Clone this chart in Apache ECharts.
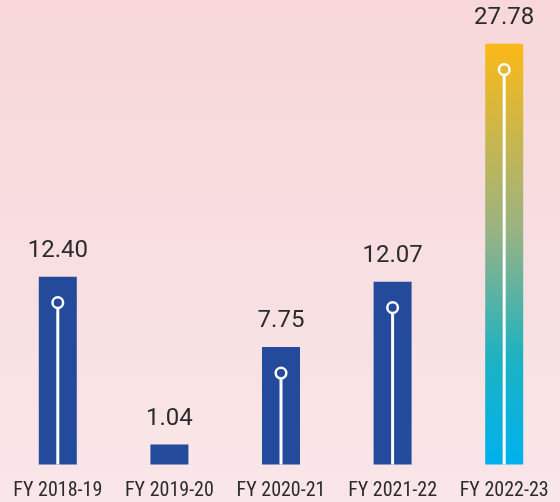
<!DOCTYPE html>
<html><head><meta charset="utf-8">
<style>html,body{margin:0;padding:0;}#c{width:560px;height:502px;background:linear-gradient(180deg,#f7d7da 0%,#f8e0e2 60%,#f9e6e8 100%);}</style>
<script src="https://cdn.jsdelivr.net/npm/echarts@6/dist/echarts.min.js"></script>
</head><body><div id="c"></div>
<script>
const categories = ['FY 2018-19','FY 2019-20','FY 2020-21','FY 2021-22','FY 2022-23'];
const values = [12.40, 1.04, 7.75, 12.07, 27.78];
const valueLabels = ['12.40','1.04','7.75','12.07','27.78'];

const chart = echarts.init(document.getElementById('c'), null, {renderer:'canvas'});
const blue = '#234a9b';
const grad = new echarts.graphic.LinearGradient(0,0,0,1,[
  {offset:0,color:'#fbb916'},
  {offset:0.45,color:'#97b384'},
  {offset:0.75,color:'#1cb2c2'},
  {offset:1,color:'#00b1ee'}
]);
chart.setOption({
  backgroundColor:'transparent',
  animation:false,
  grid:{left:2,right:-1,top:10,bottom:37.5,containLabel:false},
  xAxis:{type:'category',data:categories,
    axisLine:{show:false},axisTick:{show:false},
    axisLabel:{interval:0,hideOverlap:false,margin:16,fontSize:20,color:'#2b2b2b',fontFamily:"'Roboto Condensed','Liberation Sans Narrow','DejaVu Sans Condensed',sans-serif"}},
  yAxis:{type:'value',min:0,max:30,show:false,splitLine:{show:false}},
  series:[
    {type:'bar',barWidth:38,barMinHeight:20,
     data:values.map((v,i)=>({value:v,itemStyle:{color:i===4?grad:blue}})),
     label:{show:true,position:'top',distance:14,fontSize:24,color:'#2b2b2b',fontFamily:'Roboto',
       formatter:p=>valueLabels[p.dataIndex]}},
    {type:'custom',
     data:values.map((v,i)=>[i,v]),
     renderItem:function(params,api){
       const top = api.coord([api.value(0),api.value(1)]);
       const bot = api.coord([api.value(0),0]);
       const cy = top[1]+26;
       if(cy+6 > bot[1]) return null;
       return {type:'group',children:[
         {type:'line',shape:{x1:top[0],y1:cy,x2:top[0],y2:bot[1]},style:{stroke:'#ffffff',lineWidth:3}},
         {type:'circle',shape:{cx:top[0],cy:cy,r:5.3},style:{fill:params.dataIndex===4?'#e4b831':blue,stroke:'#ffffff',lineWidth:2.5}}
       ]};
     },
     z:5}
  ]
});
</script></body></html>
